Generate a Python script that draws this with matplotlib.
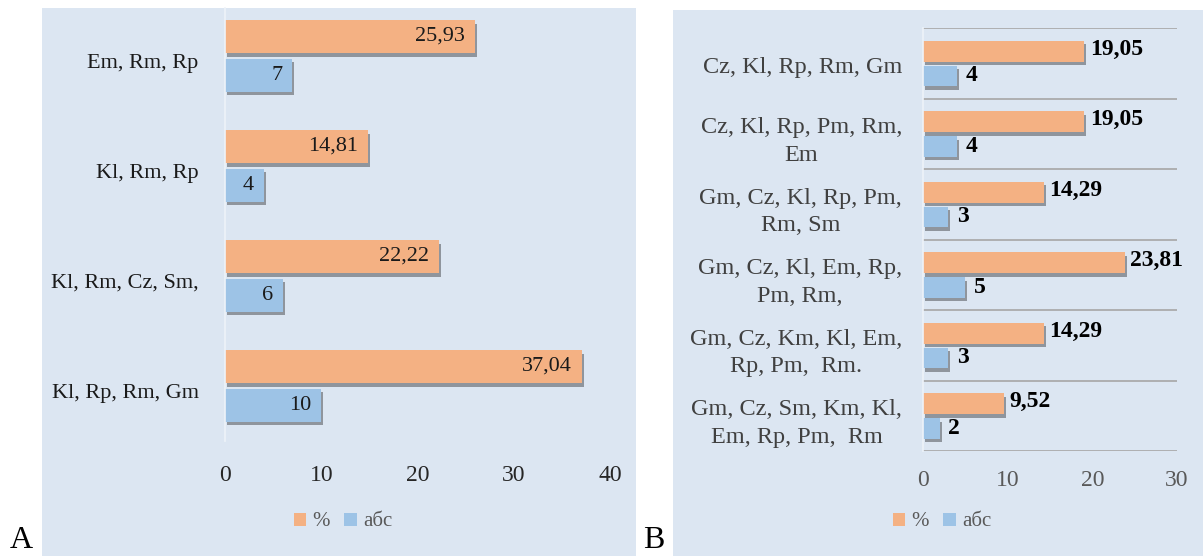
import matplotlib
matplotlib.use("Agg")
import matplotlib.pyplot as plt
import matplotlib.patheffects as pe
from matplotlib.patches import Rectangle, Patch
import matplotlib.transforms as mtrans
import numpy as np

plt.rcParams['font.family'] = ['Liberation Serif', 'DejaVu Serif']

# panel A data (top to bottom)
cats_a = ["Em, Rm, Rp", "Kl, Rm, Rp", "Kl, Rm, Cz, Sm,", "Kl, Rp, Rm, Gm"]
pct_a = [25.93, 14.81, 22.22, 37.04]
abs_a = [7, 4, 6, 10]

# panel B data (top to bottom)
cats_b = ["Cz, Kl, Rp, Rm, Gm",
          "Cz, Kl, Rp, Pm, Rm,\nEm",
          "Gm, Cz, Kl, Rp, Pm,\nRm, Sm",
          "Gm, Cz, Kl, Em, Rp,\nPm, Rm,",
          "Gm, Cz, Km, Kl, Em,\nRp, Pm,  Rm.",
          "Gm, Cz, Sm, Km, Kl,\nEm, Rp, Pm,  Rm"]
pct_b = [19.05, 19.05, 14.29, 23.81, 14.29, 9.52]
abs_b = [4, 4, 3, 5, 3, 2]

ticks_a = [0, 10, 20, 30, 40]
ticks_b = [0, 10, 20, 30]
legend_labels = ["%", "абс"]

ORANGE = "#f4b183"
BLUE = "#9dc3e6"
BG = "#dce6f2"

W, H = 1203, 556
fig = plt.figure(figsize=(W / 100, H / 100), dpi=100)


def box(x0, y0, x1, y1):
    # pixel box (top-left origin) -> figure fraction rect
    return [x0 / W, 1 - y1 / H, (x1 - x0) / W, (y1 - y0) / H]


def fmt(v):
    return f"{v:.2f}".replace(".", ",")


shadow = [pe.SimplePatchShadow(offset=(1.5, -2.5), shadow_rgbFace="k", alpha=0.35), pe.Normal()]

# backgrounds
for x0, y0, x1, y1 in [(42, 8, 636, 556), (673, 10, 1203, 556)]:
    r = box(x0, y0, x1, y1)
    fig.patches.append(Rectangle((r[0], r[1]), r[2], r[3], transform=fig.transFigure,
                                 facecolor=BG, edgecolor="none", zorder=-5))

# ---------- panel A ----------
axa = fig.add_axes(box(225, 1, 610, 441))
axa.set_facecolor("none")
ya = np.arange(len(cats_a))
ba1 = axa.barh(ya - 0.177, pct_a, height=0.3, color=ORANGE)
ba2 = axa.barh(ya + 0.177, abs_a, height=0.3, color=BLUE)
for b in list(ba1) + list(ba2):
    b.set_path_effects(shadow)
for y, v in zip(ya, pct_a):
    axa.annotate(fmt(v), (v, y - 0.177), xytext=(-7, 0), textcoords="offset points",
                 ha="right", va="center", fontsize=16, color="#1a1a1a")
for y, v in zip(ya, abs_a):
    axa.annotate(str(v), (v, y + 0.177), xytext=(-7, 0), textcoords="offset points",
                 ha="right", va="center", fontsize=16, color="#1a1a1a")
axa.set_xlim(0, 40)
axa.set_ylim(3.5, -0.5)
axa.set_xticks(ticks_a)
axa.set_yticks(ya)
axa.set_yticklabels(cats_a)
axa.tick_params(axis="x", length=0, pad=17, labelsize=17, labelcolor="#262626")
axa.tick_params(axis="y", length=0, pad=19, labelsize=16, labelcolor="#1a1a1a")
off = mtrans.ScaledTranslation(0, -5 / 100, fig.dpi_scale_trans)
for lbl in axa.get_yticklabels():
    lbl.set_transform(lbl.get_transform() + off)
for s in ["top", "right", "bottom"]:
    axa.spines[s].set_visible(False)
axa.spines["left"].set_color("#eef3f9")
axa.spines["left"].set_linewidth(1.2)
axa.spines["left"].set_bounds(3.5, -0.436)

# ---------- panel B ----------
axb = fig.add_axes(box(923, 28, 1177, 451))
axb.set_facecolor("none")
yb = np.arange(len(cats_b))
axb.hlines(np.arange(-0.5, len(cats_b)), 0, 30, color="#a6a6a6", lw=1.2, zorder=1)
bb1 = axb.barh(yb - 0.17, pct_b, height=0.3, color=ORANGE, zorder=2)
bb2 = axb.barh(yb + 0.18, abs_b, height=0.29, color=BLUE, zorder=2)
for b in list(bb1) + list(bb2):
    b.set_path_effects(shadow)
for y, v in zip(yb, pct_b):
    axb.annotate(fmt(v), (v, y - 0.2), xytext=(4, 0), textcoords="offset points",
                 ha="left", va="center", fontsize=17, fontweight="bold", color="black")
for y, v in zip(yb, abs_b):
    axb.annotate(str(v), (v, y + 0.18), xytext=(6, 0), textcoords="offset points",
                 ha="left", va="center", fontsize=17, fontweight="bold", color="black")
axb.set_xlim(0, 30)
axb.set_ylim(5.5, -0.5)
axb.set_xticks(ticks_b)
axb.set_yticks(yb)
axb.set_yticklabels(cats_b, multialignment="center", linespacing=1.4)
axb.tick_params(axis="x", length=0, pad=14, labelsize=17, labelcolor="#595959")
axb.tick_params(axis="y", length=0, pad=15, labelsize=17.5, labelcolor="#404040")
offb = mtrans.ScaledTranslation(0, -2 / 100, fig.dpi_scale_trans)
for lbl in axb.get_yticklabels():
    lbl.set_transform(lbl.get_transform() + offb)
for s in ["top", "right", "bottom"]:
    axb.spines[s].set_visible(False)
axb.spines["left"].set_color("#eef3f9")
axb.spines["left"].set_linewidth(1.2)

# legends
handles = [Patch(facecolor=ORANGE), Patch(facecolor=BLUE)]
for cx in [343, 942]:
    fig.legend(handles, legend_labels, loc="center", bbox_to_anchor=(cx / W, 1 - 522 / H), ncol=2,
               frameon=False, fontsize=15, handlelength=0.6, handleheight=0.6,
               handletextpad=0.3, columnspacing=0.7, labelcolor="#595959")

# panel letters
fig.text(10 / W, 1 / H, "A", fontsize=23, ha="left", va="bottom")
fig.text(643 / W, 1 / H, "B", fontsize=23, ha="left", va="bottom")

fig.savefig("out.png", dpi=100)
